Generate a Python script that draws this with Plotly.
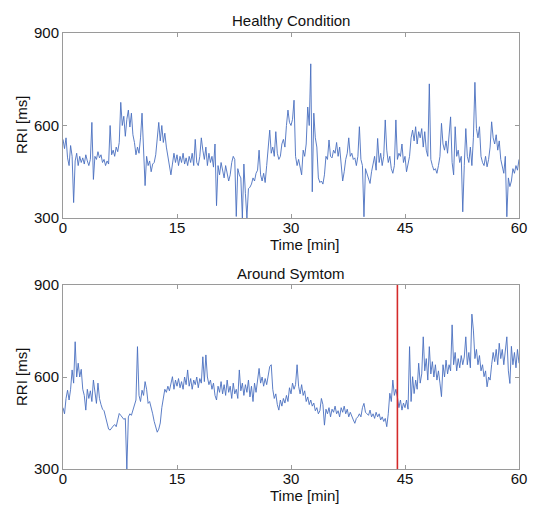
import plotly.graph_objects as go
from plotly.subplots import make_subplots

# time grid (minutes), one sample every 0.2 min
time_min = [round(i * 0.2, 1) for i in range(301)]

healthy_rri = [
    555, 525, 560, 495, 470, 535, 500, 350, 485, 510,
    470, 500, 480, 495, 475, 505, 485, 470, 490, 610,
    425, 500, 490, 515, 495, 505, 480, 490, 470, 485,
    475, 600, 505, 520, 500, 530, 515, 545, 675, 600,
    630, 565, 620, 650, 595, 640, 570, 545, 505, 530,
    510, 560, 640, 525, 405, 500, 470, 485, 450, 475,
    480, 505, 560, 610, 550, 600, 545, 575, 530, 500,
    460, 440, 475, 510, 480, 505, 470, 500, 480, 510,
    475, 495, 470, 500, 480, 510, 470, 555, 480, 470,
    500, 560, 520, 490, 530, 470, 510, 480, 500, 465,
    540, 340, 470, 440, 480, 455, 430, 470, 440, 420,
    440, 480, 500, 490, 305, 460, 440, 430, 300, 475,
    380, 300, 395, 400, 410, 430, 420, 445, 455, 520,
    440, 420, 445, 415, 470, 540, 585, 510, 530, 500,
    580, 510, 490, 500, 540, 555, 530, 600, 650, 610,
    600, 620, 682, 500, 470, 490, 460, 440, 520, 500,
    540, 660, 600, 800, 385, 640, 560, 530, 430, 415,
    420, 410, 440, 500, 490, 553, 500, 495, 520, 510,
    545, 500, 530, 460, 420, 450, 490, 510, 560, 500,
    510, 490, 495, 470, 500, 596, 490, 470, 304, 460,
    445, 430, 412, 450, 470, 500, 455, 558, 480, 510,
    470, 500, 618, 520, 480, 500, 460, 445, 470, 618,
    490, 510, 500, 540, 480, 500, 450, 470, 500, 560,
    585, 550, 596, 540, 580, 560, 590, 530, 580, 520,
    500, 735, 490, 470, 455, 460, 445, 470, 500, 607,
    540, 520, 550, 510, 560, 628, 480, 440, 596, 500,
    520, 480, 500, 320, 470, 590, 500, 480, 530, 470,
    560, 740, 590, 560, 596, 500, 480, 470, 500, 466,
    490, 530, 612, 560, 540, 570, 520, 550, 490, 470,
    445, 500, 304, 430, 402, 420, 460, 445, 470, 455,
    490,
]

symptom_rri = [
    500, 480, 530, 557, 525, 560, 623, 580, 715, 600,
    645, 600, 625, 560, 540, 492, 560, 530, 555, 520,
    590, 540, 514, 580, 530, 510, 495, 490, 470, 455,
    430, 427, 435, 440, 445, 438, 460, 481, 475, 470,
    462, 465, 300, 470, 480, 475, 492, 505, 525, 699,
    540, 520, 557, 540, 585, 560, 514, 520, 503, 480,
    455, 440, 420, 430, 450, 500, 536, 560, 550, 570,
    555, 575, 601, 560, 590, 570, 595, 565, 585, 560,
    600, 575, 623, 570, 595, 560, 590, 575, 600, 565,
    595, 580, 666, 585, 672, 600, 575, 590, 560, 580,
    540, 525, 570, 550, 585, 545, 575, 540, 590, 550,
    570, 530, 580, 545, 560, 530, 623, 555, 580, 540,
    575, 550, 590, 535, 570, 520, 580, 550, 590, 628,
    580, 600, 570, 595, 575, 610, 634, 640, 560, 530,
    545, 510, 492, 525, 505, 530, 515, 540, 520, 565,
    545, 580, 560, 575, 640, 570, 545, 575, 540, 555,
    520, 535, 510, 525, 505, 515, 490, 500, 480, 490,
    530, 510, 443, 495, 480, 500, 470, 495, 485, 505,
    480, 490, 470, 500, 485, 505, 480, 495, 470, 485,
    470, 460, 449, 465, 470, 480, 470, 500, 514, 485,
    480, 475, 492, 470, 480, 465, 485, 470, 480, 460,
    470, 455, 465, 438, 480, 547, 520, 590, 540, 560,
    535, 500, 525, 492, 515, 500, 525, 495, 699, 520,
    601, 546, 590, 560, 645, 580, 610, 731, 620, 660,
    590, 699, 610, 650, 600, 640, 590, 620, 580, 536,
    640, 600, 655, 610, 640, 620, 770, 640, 680, 620,
    660, 630, 670, 640, 665, 731, 640, 680, 630, 805,
    753, 660, 690, 640, 670, 620, 640, 601, 620, 568,
    600, 590, 640, 680, 650, 690, 640, 710, 660, 690,
    640, 680, 731, 620, 579, 700, 640, 680, 630, 690,
    645,
]

symptom_time = [44]
x_ticks = [0, 15, 30, 45, 60]
y_ticks = [300, 600, 900]
titles = ["Healthy Condition", "Around Symtom"]

FONT = "Liberation Sans, Arial, Helvetica, sans-serif"
LINE_BLUE = "#4a6fbf"
AXIS_GREY = "#9a9a9a"

fig = make_subplots(rows=2, cols=1, vertical_spacing=0.154)

fig.add_trace(go.Scatter(x=time_min, y=healthy_rri, mode="lines",
                         line=dict(color=LINE_BLUE, width=0.9), showlegend=False),
              row=1, col=1)
fig.add_trace(go.Scatter(x=time_min, y=symptom_rri, mode="lines",
                         line=dict(color=LINE_BLUE, width=0.9), showlegend=False),
              row=2, col=1)
fig.add_trace(go.Scatter(x=[symptom_time[0], symptom_time[0]], y=[300, 900], mode="lines",
                         line=dict(color="#d42a2a", width=1.6), showlegend=False),
              row=2, col=1)

axis_common = dict(showline=True, linecolor=AXIS_GREY, linewidth=1, mirror="ticks",
                   ticks="inside", ticklen=4, tickcolor=AXIS_GREY, showgrid=False,
                   zeroline=False, automargin=False,
                   tickfont=dict(family=FONT, size=15, color="#111"))

for r in (1, 2):
    fig.update_xaxes(range=[0, 60], tickvals=x_ticks, row=r, col=1,
                     ticklabelstandoff=-4, **axis_common)
    fig.update_yaxes(range=[300, 900], tickvals=y_ticks, row=r, col=1, **axis_common)

fig.update_layout(
    width=533, height=506, autosize=False,
    margin=dict(l=63, r=14, t=33, b=37),
    plot_bgcolor="white", paper_bgcolor="white",
    font=dict(family=FONT, size=15, color="#111"),
    yaxis=dict(domain=[0.5757, 1.0]),
    yaxis2=dict(domain=[0.0, 0.422]),
)

ann = []
# subplot titles
ann.append(dict(text=titles[0], x=0.5, y=(469 - 20) / 436, xref="paper", yref="paper",
                showarrow=False, xanchor="center", yanchor="middle", font=dict(size=15)))
ann.append(dict(text=titles[1], x=0.5, y=(469 - 273) / 436, xref="paper", yref="paper",
                showarrow=False, xanchor="center", yanchor="middle", font=dict(size=15)))
# x labels
for py in (244, 495):
    ann.append(dict(text="Time [min]", x=(304 - 63) / 456, y=(469 - py) / 436,
                    xref="paper", yref="paper", showarrow=False,
                    xanchor="center", yanchor="middle", font=dict(size=15)))
# y labels
for py in (125, 377):
    ann.append(dict(text="RRI [ms]", x=(22 - 63) / 456, y=(469 - py) / 436,
                    xref="paper", yref="paper", showarrow=False, textangle=-90,
                    xanchor="center", yanchor="middle", font=dict(size=15)))
fig.update_layout(annotations=ann)

fig.write_html("out.html", config={"displayModeBar": False},
               post_script="document.body.style.margin='0';document.body.style.overflow='hidden';")
